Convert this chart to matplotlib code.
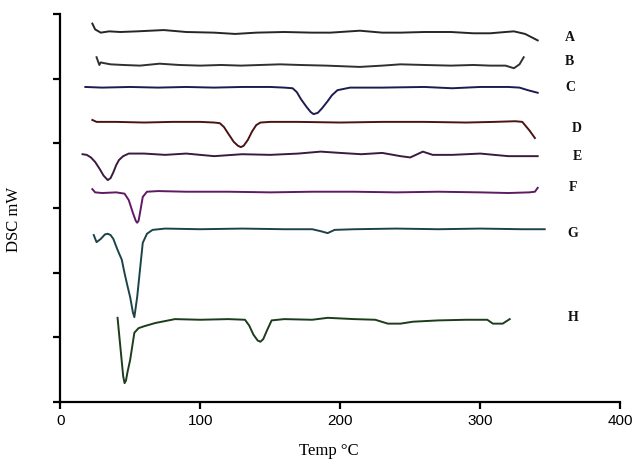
import matplotlib.pyplot as plt

# DSC thermograms, temperature (deg C) vs stacked heat-flow trace (arbitrary offset units)
names = ['A', 'B', 'C', 'D', 'E', 'F', 'G', 'H']

temp_A = [23, 25, 29, 35, 43, 55, 74, 90, 110, 125, 140, 160, 180, 193, 214, 230, 243, 260, 279, 295, 307, 318, 324, 332, 341]
dsc_A = [5.85, 5.76, 5.71, 5.73, 5.72, 5.73, 5.75, 5.72, 5.71, 5.69, 5.71, 5.72, 5.71, 5.71, 5.74, 5.71, 5.71, 5.72, 5.72, 5.70, 5.70, 5.72, 5.73, 5.69, 5.59]

temp_B = [26, 28, 29, 31, 36, 45, 57, 71, 85, 100, 115, 129, 143, 157, 171, 190, 214, 230, 243, 260, 279, 295, 307, 318, 324, 328, 331]
dsc_B = [5.33, 5.21, 5.25, 5.24, 5.22, 5.21, 5.20, 5.23, 5.21, 5.20, 5.21, 5.20, 5.21, 5.22, 5.21, 5.20, 5.18, 5.20, 5.22, 5.21, 5.20, 5.21, 5.20, 5.20, 5.16, 5.22, 5.33]

temp_C = [18, 30, 50, 70, 90, 110, 130, 150, 160, 166, 169, 172, 176, 179, 181, 184, 187, 191, 194, 198, 207, 230, 260, 280, 300, 320, 328, 334, 341]
dsc_C = [4.87, 4.86, 4.87, 4.86, 4.87, 4.86, 4.87, 4.87, 4.86, 4.85, 4.79, 4.68, 4.56, 4.48, 4.45, 4.47, 4.54, 4.65, 4.74, 4.82, 4.86, 4.86, 4.87, 4.85, 4.87, 4.87, 4.86, 4.82, 4.78]

temp_D = [23, 26, 40, 60, 80, 100, 110, 114, 117, 120, 124, 127, 129, 131, 134, 137, 140, 143, 150, 170, 200, 230, 260, 290, 310, 325, 330, 335, 339]
dsc_D = [4.36, 4.33, 4.33, 4.32, 4.33, 4.33, 4.32, 4.31, 4.25, 4.15, 4.02, 3.96, 3.94, 3.96, 4.05, 4.18, 4.28, 4.32, 4.33, 4.33, 4.32, 4.33, 4.33, 4.32, 4.33, 4.34, 4.33, 4.20, 4.08]

temp_E = [16, 19, 22, 25, 28, 31, 34, 36, 38, 40, 42, 45, 49, 60, 75, 90, 110, 130, 150, 170, 186, 200, 215, 230, 243, 250, 255, 259, 266, 280, 300, 320, 341]
dsc_E = [3.83, 3.82, 3.78, 3.71, 3.61, 3.50, 3.43, 3.46, 3.55, 3.66, 3.74, 3.80, 3.84, 3.84, 3.82, 3.84, 3.80, 3.83, 3.82, 3.84, 3.87, 3.85, 3.83, 3.85, 3.80, 3.78, 3.83, 3.87, 3.82, 3.82, 3.84, 3.80, 3.80]

temp_F = [23, 25, 30, 40, 46, 49, 52, 54, 55, 56, 57, 59, 62, 70, 90, 120, 150, 180, 210, 240, 270, 300, 320, 335, 339, 341]
dsc_F = [3.29, 3.24, 3.23, 3.24, 3.22, 3.12, 2.92, 2.80, 2.77, 2.80, 2.92, 3.17, 3.25, 3.26, 3.25, 3.25, 3.24, 3.25, 3.25, 3.24, 3.25, 3.24, 3.23, 3.24, 3.25, 3.31]

temp_G = [24, 26, 29, 32, 34, 36, 38, 41, 44, 46, 48, 50, 52, 53, 55, 57, 59, 62, 66, 75, 100, 130, 160, 180, 186, 191, 196, 210, 240, 270, 300, 330, 346]
dsc_G = [2.58, 2.47, 2.52, 2.59, 2.60, 2.58, 2.52, 2.35, 2.20, 1.99, 1.80, 1.62, 1.38, 1.31, 1.62, 2.04, 2.46, 2.60, 2.66, 2.68, 2.67, 2.68, 2.67, 2.67, 2.64, 2.61, 2.66, 2.67, 2.68, 2.67, 2.68, 2.67, 2.67]

temp_H = [41, 43, 45, 46, 47, 48, 50, 53, 56, 60, 68, 82, 100, 120, 132, 135, 138, 141, 143, 145, 148, 151, 160, 180, 191, 210, 225, 234, 243, 252, 270, 290, 305, 309, 316, 321]
dsc_H = [1.30, 0.85, 0.40, 0.29, 0.33, 0.45, 0.65, 1.07, 1.14, 1.17, 1.22, 1.28, 1.27, 1.28, 1.27, 1.18, 1.04, 0.95, 0.93, 0.97, 1.12, 1.26, 1.28, 1.27, 1.30, 1.28, 1.27, 1.21, 1.21, 1.24, 1.26, 1.27, 1.27, 1.21, 1.21, 1.28]

x_ticks = [0, 100, 200, 300, 400]
y_ticks = [0, 1, 2, 3, 4, 5, 6]

temps = [temp_A, temp_B, temp_C, temp_D, temp_E, temp_F, temp_G, temp_H]
dscs = [dsc_A, dsc_B, dsc_C, dsc_D, dsc_E, dsc_F, dsc_G, dsc_H]
colors = ['#262626', '#303030', '#1c1c50', '#4a1414', '#3c1a40', '#5e1a62', '#1c4448', '#1c3c1c']
label_pos = [(364, 5.63), (364, 5.26), (364, 4.86), (369, 4.23), (369, 3.80),
             (366, 3.31), (366, 2.60), (366, 1.30)]

fig = plt.figure(figsize=(6.33, 4.63), dpi=100)
ax = fig.add_axes([0.095, 0.132, 0.885, 0.838])

for t, d, c in zip(temps, dscs, colors):
    ax.plot(t, d, color=c, lw=1.4)

for name, (lx, ly) in zip(names, label_pos):
    ax.text(lx, ly, name, ha='center', va='center', fontsize=10,
            fontweight='bold', family='Liberation Serif', color='#111111')

ax.set_xlim(0, 400)
ax.set_ylim(0, 6)
ax.set_xticks(x_ticks)
ax.set_yticks(y_ticks)
ax.set_yticklabels([])
for lab in ax.get_xticklabels():
    lab.set_family('Liberation Sans')
    lab.set_fontsize(11)

ax.spines['top'].set_visible(False)
ax.spines['right'].set_visible(False)
ax.spines['left'].set_linewidth(1.6)
ax.spines['bottom'].set_linewidth(1.6)
ax.tick_params(direction='out', length=5, width=1.6, color='black', pad=4)

ax.set_xlabel('Temp °C', family='Liberation Serif', fontsize=12)
ax.xaxis.set_label_coords(0.48, -0.105)
ax.set_ylabel('DSC mW', family='Liberation Serif', fontsize=12)
ax.yaxis.set_label_coords(-0.068, 0.47)

plt.savefig('out.png', dpi=100)
